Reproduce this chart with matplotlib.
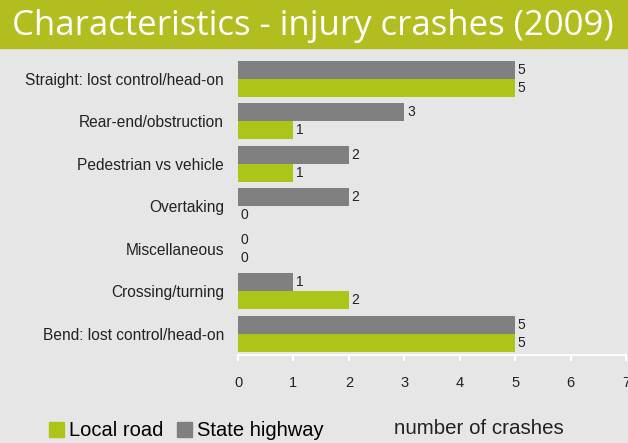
import matplotlib
matplotlib.use("Agg")
import matplotlib.pyplot as plt
import matplotlib.patches as patches

# data (top to bottom as shown)
categories = ["Straight: lost control/head-on", "Rear-end/obstruction",
              "Pedestrian vs vehicle", "Overtaking", "Miscellaneous",
              "Crossing/turning", "Bend: lost control/head-on"]
state_highway = [5, 3, 2, 2, 0, 1, 5]
local_road = [5, 1, 1, 0, 0, 2, 5]
xticks = [0, 1, 2, 3, 4, 5, 6, 7]

green = "#adc418"
grey = "#808080"
bg = "#e6e6e6"
header = "#b2be1f"

plt.rcParams["font.family"] = ["Liberation Sans", "DejaVu Sans"]

fig = plt.figure(figsize=(6.28, 4.43), dpi=100, facecolor=bg)

# header band
fig.patches.append(patches.Rectangle((0, 1 - 48 / 443), 1, 48 / 443,
                                     transform=fig.transFigure, color=header, zorder=0))
fig.text(12 / 628, 1 - 26 / 443, "Characteristics - injury crashes (2009)",
         color="white", fontsize=25, family=["Open Sans", "DejaVu Sans"],
         ha="left", va="center")

ax = fig.add_axes([238 / 628, 88 / 443, 388 / 628, 297.5 / 443])
ax.set_facecolor(bg)

ys = list(range(len(categories)))
h = 0.42
ax.barh([y - h / 2 for y in ys], state_highway, height=h, color=grey)
ax.barh([y + h / 2 for y in ys], local_road, height=h, color=green)

for y, v in zip(ys, state_highway):
    ax.text(v + 0.05, y - h / 2, str(v), va="center", ha="left", fontsize=10, color="#222222")
for y, v in zip(ys, local_road):
    ax.text(v + 0.05, y + h / 2, str(v), va="center", ha="left", fontsize=10, color="#222222")

ax.set_ylim(len(categories) - 0.5, -0.5)
ax.set_xlim(0, 7)
ax.set_yticks(ys)
ax.set_yticklabels(categories, fontsize=11.2, color="#222222")
ax.set_xticks(xticks)
ax.set_xticklabels([str(t) for t in xticks], fontsize=10.5, color="#222222")
ax.tick_params(axis="y", length=0, pad=10)
ax.tick_params(axis="x", length=4, width=1.5, color="white", pad=11)
for s in ["top", "right", "left"]:
    ax.spines[s].set_visible(False)
ax.spines["bottom"].set_color("white")
ax.spines["bottom"].set_linewidth(1.5)

handles = [patches.Patch(color=green, label="Local road"),
           patches.Patch(color=grey, label="State highway")]
fig.legend(handles=handles, loc="center left", bbox_to_anchor=(31 / 628, 1 - 431 / 443),
           ncol=2, frameon=False, fontsize=14.5, handlelength=0.75, handleheight=0.75,
           handletextpad=0.25, columnspacing=0.65)
fig.text(394 / 628, 1 - 429 / 443, "number of crashes", fontsize=14.8,
         ha="left", va="center", color="#222222")

fig.savefig("out.png", dpi=100, facecolor=bg)
